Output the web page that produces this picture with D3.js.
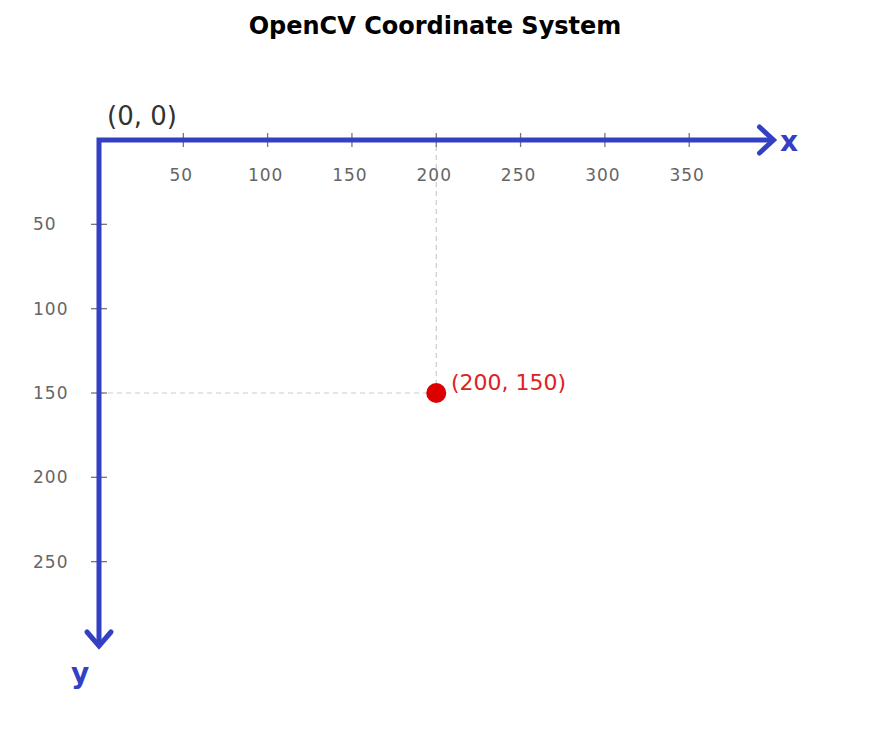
<!DOCTYPE html>
<html><head><meta charset="utf-8">
<script src="https://cdn.jsdelivr.net/npm/d3@7"></script>
<style>body{margin:0;background:#fff}</style></head>
<body><svg id="c" width="871" height="743"></svg>
<script>
const xTicks = [50,100,150,200,250,300,350];
const yTicks = [50,100,150,200,250];
const point = [200,150];
const pointLabel = "(200, 150)";
const originLabel = "(0, 0)";

const svg = d3.select("#c");
const x = d3.scaleLinear().domain([0,400]).range([99, 773.5]);
const y = d3.scaleLinear().domain([0,300]).range([140, 646]);
const blue = "#3340c4", gray = "#777";

svg.append("text").attr("x",435).attr("y",34).attr("text-anchor","middle")
  .attr("font-family","DejaVu Sans").attr("font-weight","bold").attr("font-size",24).text("OpenCV Coordinate System");

// guides
svg.append("line").attr("x1",x(point[0])).attr("x2",x(point[0])).attr("y1",y(0)+6).attr("y2",y(point[1]))
  .attr("stroke","#ccc").attr("stroke-width",1.2).attr("stroke-dasharray","5,4");
svg.append("line").attr("x1",x(0)).attr("x2",x(point[0])).attr("y1",y(point[1])).attr("y2",y(point[1]))
  .attr("stroke","#ccc").attr("stroke-width",1.2).attr("stroke-dasharray","5,4");

// ticks
xTicks.forEach(t=>{
  svg.append("line").attr("x1",x(t)).attr("x2",x(t)).attr("y1",y(0)-7).attr("y2",y(0)+7).attr("stroke",gray).attr("stroke-width",1.3);
  svg.append("text").attr("x",x(t)-2).attr("y",181).attr("text-anchor","middle").attr("font-family","DejaVu Sans")
    .attr("font-size",17).attr("fill","#666").attr("letter-spacing",1).text(t);
});
yTicks.forEach(t=>{
  svg.append("line").attr("x1",x(0)-8).attr("x2",x(0)+8).attr("y1",y(t)).attr("y2",y(t)).attr("stroke",gray).attr("stroke-width",1.3);
  svg.append("text").attr("x",33).attr("y",y(t)+6).attr("font-family","DejaVu Sans")
    .attr("font-size",17).attr("fill","#666").attr("letter-spacing",1).text(t);
});

// axes
svg.append("path").attr("d",`M${x(0)},${y(0)}H${x(400)-2} M${x(0)},${y(0)}V${y(300)-2}`)
  .attr("stroke",blue).attr("stroke-width",5).attr("fill","none").attr("stroke-linecap","square");
svg.append("path").attr("d",`M${x(400)-14},${y(0)-13}L${x(400)},${y(0)}L${x(400)-14},${y(0)+13}`)
  .attr("stroke",blue).attr("stroke-width",5).attr("fill","none").attr("stroke-linecap","round");
svg.append("path").attr("d",`M${x(0)-12},${y(300)-14}L${x(0)},${y(300)}L${x(0)+12},${y(300)-14}`)
  .attr("stroke",blue).attr("stroke-width",5).attr("fill","none").attr("stroke-linecap","round");
svg.append("text").attr("x",780).attr("y",151).attr("font-family","DejaVu Sans").attr("font-weight","bold")
  .attr("font-size",28).attr("fill",blue).text("x");
svg.append("text").attr("x",71).attr("y",683).attr("font-family","DejaVu Sans").attr("font-weight","bold")
  .attr("font-size",28).attr("fill",blue).text("y");

svg.append("text").attr("x",107).attr("y",125).attr("font-family","DejaVu Sans").attr("font-size",26)
  .attr("fill","#333").text(originLabel);

svg.append("circle").attr("cx",x(point[0])).attr("cy",y(point[1])).attr("r",10).attr("fill","#dd0000");
svg.append("text").attr("x",451).attr("y",390).attr("font-family","DejaVu Sans").attr("font-size",22)
  .attr("fill","#dd2222").text(pointLabel);
</script></body></html>
